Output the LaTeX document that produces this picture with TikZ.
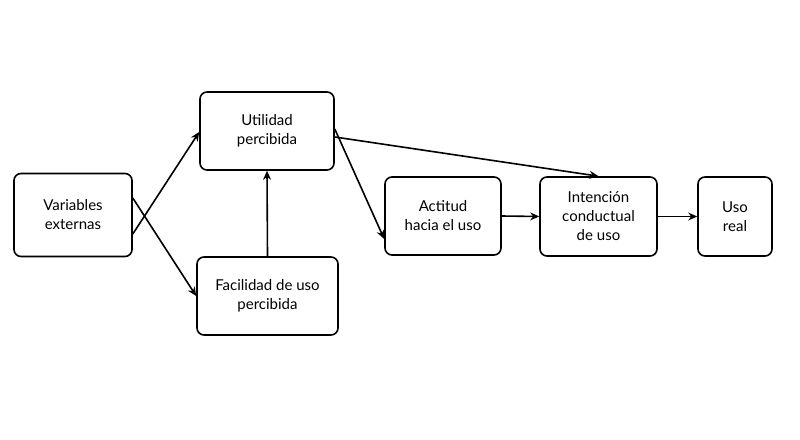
\documentclass[tikz,border=0pt]{standalone}
\usepackage{fontspec}
\setmainfont{Lato}
\usetikzlibrary{arrows.meta}
\begin{document}
\begin{tikzpicture}[x=1pt,y=-1pt,
  box/.style={draw,line width=1.6pt,rounded corners=7pt,align=center,font=\fontsize{15}{19}\selectfont,inner sep=0pt},
  arr/.style={-{Stealth[length=9pt,width=8pt]},line width=1.6pt}]
\useasboundingbox (0,0) rectangle (800,439);
\node[box,minimum width=118,minimum height=83] (ve) at (73,215) {Variables\\externas};
\node[box,minimum width=134,minimum height=78] (up) at (267,131) {Utilidad\\percibida};
\node[box,minimum width=141,minimum height=78] (fu) at (267.5,296) {Facilidad de uso\\percibida};
\node[box,minimum width=116,minimum height=78] (ac) at (443,216) {Actitud\\hacia el uso};
\node[box,minimum width=117,minimum height=79] (ic) at (598.5,216.5) {Intención\\conductual\\de uso};
\node[box,minimum width=74,minimum height=79] (ur) at (735,216.5) {Uso\\real};
\draw[arr] ([yshift=-19pt]ve.east) -- (up.west|-0,132);
\draw[arr] ([yshift=17pt]ve.east) -- (fu.west|-0,296);
\draw[arr] (fu.north) -- (up.south);
\draw[arr] ([yshift=-6pt]up.east) -- (ic.north);
\draw[arr] ([yshift=2pt]up.east) -- ([yshift=-23pt]ac.west);
\draw[arr] (ac.east) -- (ic.west);
\draw[arr] (ic.east) -- (ur.west);
\end{tikzpicture}
\end{document}
